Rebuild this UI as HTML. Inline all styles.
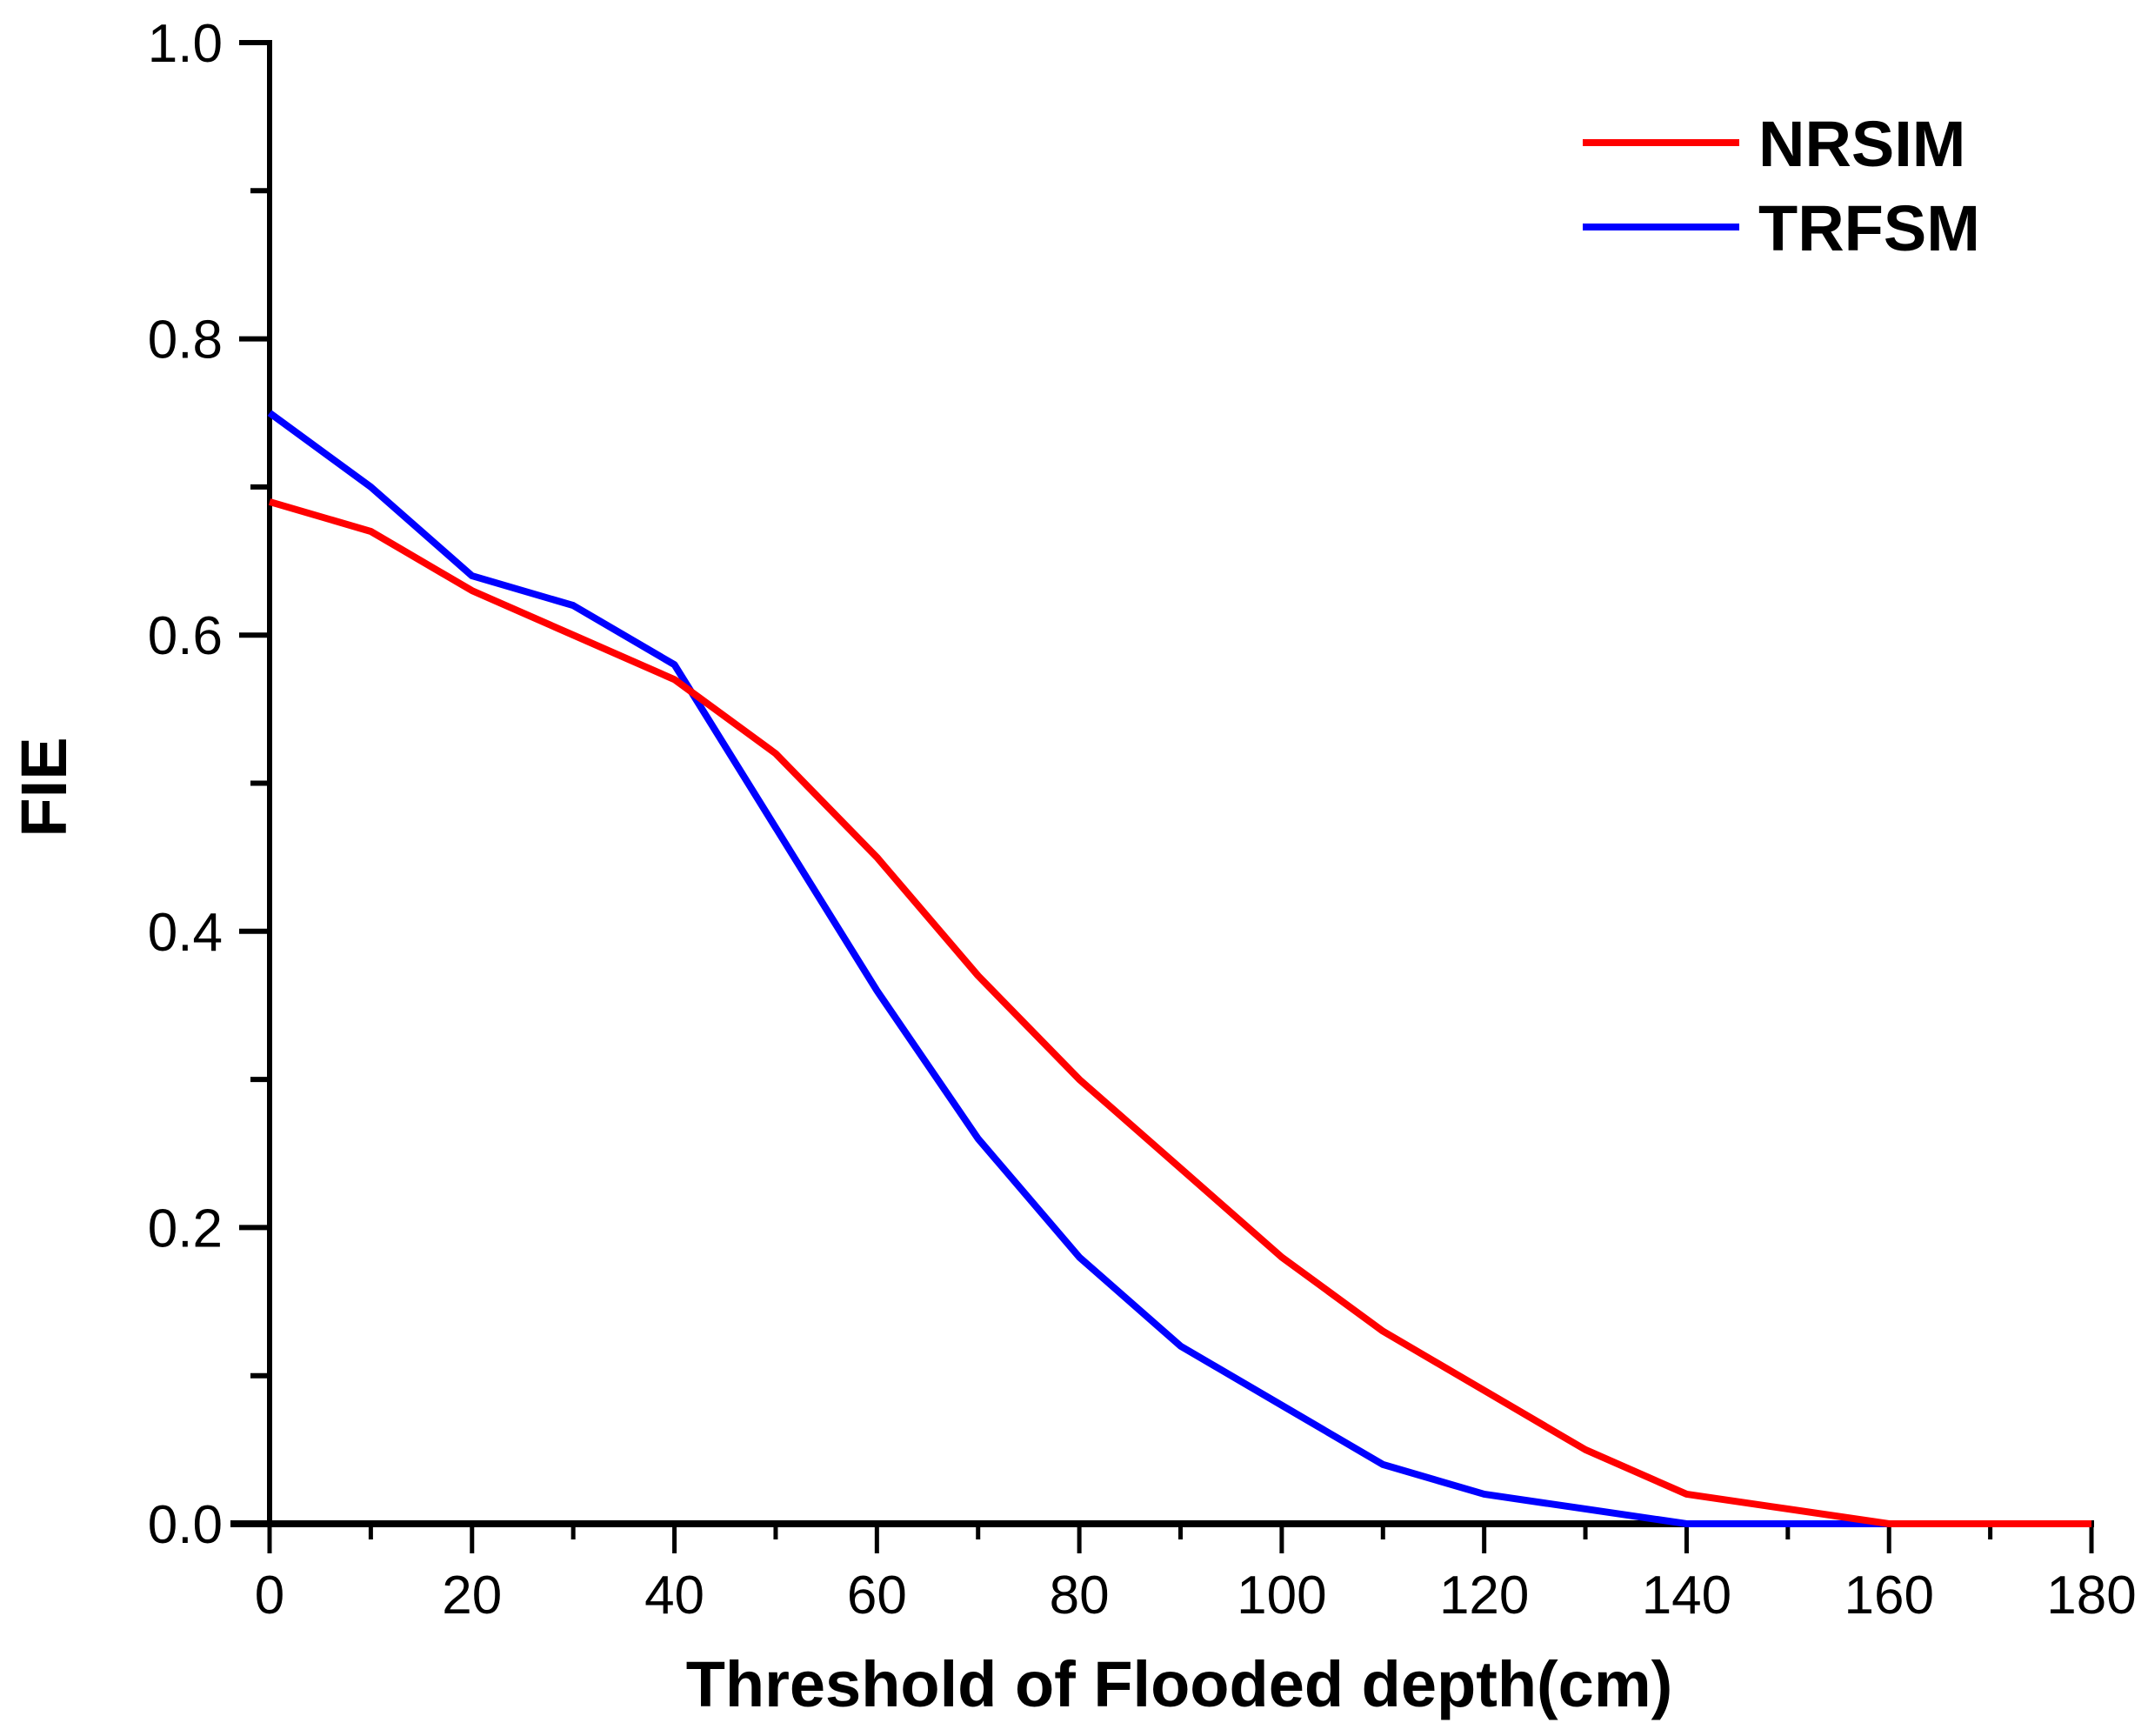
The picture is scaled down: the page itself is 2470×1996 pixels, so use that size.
<!DOCTYPE html>
<html><head><meta charset="utf-8"><style>
html,body{margin:0;padding:0;background:#fff;}
svg{display:block;}
text{font-family:"Liberation Sans",Arial,sans-serif;fill:#000;}
</style></head><body>
<svg id="chart" width="2470" height="1996" viewBox="0 0 2470 1996" xmlns="http://www.w3.org/2000/svg">
<g id="axes"></g>
<g id="series"></g>
<g id="legend">
  <line x1="1820" y1="164" x2="2000" y2="164" stroke="#ff0000" stroke-width="8"/>
  <text x="2022" y="191" font-size="74" font-weight="bold">NRSIM</text>
  <line x1="1820" y1="261" x2="2000" y2="261" stroke="#0000ff" stroke-width="8"/>
  <text x="2022" y="288" font-size="74" font-weight="bold">TRFSM</text>
</g>
<text x="1356" y="1962" font-size="74" font-weight="bold" text-anchor="middle">Threshold of Flooded depth(cm)</text>
<text x="0" y="0" font-size="74" font-weight="bold" text-anchor="middle" transform="translate(76,905) rotate(-90)">FIE</text>
</svg>
<script>
const xCategories = [0,10,20,30,40,50,60,70,80,90,100,110,120,130,140,150,160,170,180];
const nrsimValues = [0.69,0.67,0.63,0.60,0.57,0.52,0.45,0.37,0.30,0.24,0.18,0.13,0.09,0.05,0.02,0.01,0,0,0];
const trfsmValues = [0.75,0.70,0.64,0.62,0.58,0.47,0.36,0.26,0.18,0.12,0.08,0.04,0.02,0.01,0,0,0];
const xTickLabels = ["0","20","40","60","80","100","120","140","160","180"];
const yTickLabels = ["0.0","0.2","0.4","0.6","0.8","1.0"];

const X0=310, X1=2405, Y0=1752, Y1=49;
function sx(v){return X0+(v-0)/(180-0)*(X1-X0);}
function sy(v){return Y0-(v-0)/(1-0)*(Y0-Y1);}
const NS="http://www.w3.org/2000/svg";
function mk(tag,attrs,parent){const e=document.createElementNS(NS,tag);for(const k in attrs)e.setAttribute(k,attrs[k]);parent.appendChild(e);return e;}
const axes=document.getElementById('axes');
let e;
e=mk('line',{x1:X0,y1:Y1-3,x2:X0,y2:Y0,stroke:'#000','stroke-width':6},axes);


e=mk('line',{x1:X0-45,y1:Y0,x2:X1+3,y2:Y0,stroke:'#000','stroke-width':8},axes);


for(let i=0;i<=10;i++){
  const v=i/10, y=sy(v), major=(i%2===0);
  e=mk('line',{x1:X0-(major?35:22),y1:y,x2:X0,y2:y,stroke:'#000','stroke-width':6},axes);
  
  
}
yTickLabels.forEach((t)=>{
  const y=sy(parseFloat(t));
  e=mk('text',{x:256,y:y+22,'font-size':62,'text-anchor':'end'},axes);
  e.textContent=t;
  
  
});
for(let v=0;v<=180;v+=10){
  const x=sx(v), major=(v%20===0);
  e=mk('line',{x1:x,y1:Y0,x2:x,y2:Y0+(major?34:18),stroke:'#000','stroke-width':5},axes);
  
  
}
xTickLabels.forEach((t)=>{
  const x=sx(parseFloat(t));
  e=mk('text',{x:x,y:1855,'font-size':62,'text-anchor':'middle'},axes);
  e.textContent=t;
  
  
});
const series=document.getElementById('series');
function pts(vals){return vals.map((v,i)=>sx(xCategories[i])+','+sy(v)).join(' ');}
e=mk('polyline',{points:pts(trfsmValues),fill:'none',stroke:'#0000ff','stroke-width':8,'stroke-linejoin':'round'},series);


e=mk('polyline',{points:pts(nrsimValues),fill:'none',stroke:'#ff0000','stroke-width':8,'stroke-linejoin':'round'},series);


</script>
</body></html>
